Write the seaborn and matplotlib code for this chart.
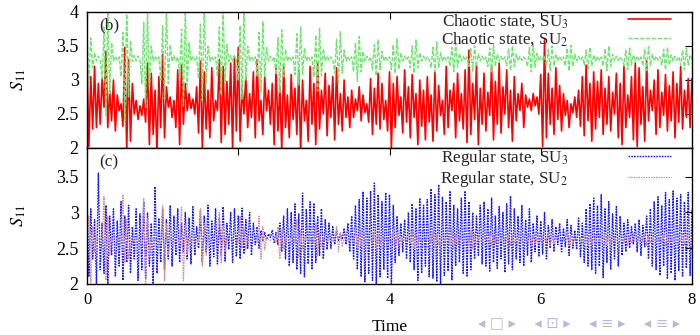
import numpy as np
import pandas as pd
import seaborn as sns
import matplotlib.pyplot as plt
from matplotlib.ticker import FormatStrFormatter

chaotic_su3 = [
    3.32, 2.02, 3.05, 2.28, 3.20, 2.30, 2.95, 2.35, 3.02, 2.60,
    3.42, 2.30, 2.85, 2.40, 3.00, 2.25, 2.78, 2.55, 2.65, 2.32,
    3.48, 1.95, 3.30, 2.10, 2.95, 2.50, 2.70, 2.42, 2.62, 2.48,
    2.72, 2.38, 3.25, 2.05, 3.10, 2.20, 2.85, 1.95, 3.05, 2.30,
    3.38, 2.15, 2.90, 2.60, 2.75, 2.45, 2.70, 2.30, 3.15, 2.05,
    3.22, 2.35, 2.95, 2.55, 2.80, 2.58, 2.72, 2.50, 2.90, 2.22,
    3.28, 2.00, 3.12, 2.28, 2.85, 2.15, 3.18, 2.40, 2.70, 2.55,
    3.30, 2.08, 3.20, 2.20, 2.98, 2.35, 3.25, 1.98, 3.35, 2.25,
    3.48, 2.10, 2.92, 2.50, 3.05, 2.30, 2.80, 2.45, 3.12, 2.15,
    3.30, 2.40, 2.70, 2.20, 3.05, 2.55, 2.85, 2.35, 2.95, 2.05,
    3.18, 2.25, 2.90, 1.98, 3.22, 2.30, 2.78, 2.15, 3.08, 2.42,
    2.88, 2.20, 3.15, 1.95, 3.00, 2.40, 2.70, 2.10, 3.20, 2.35,
    2.95, 2.05, 3.25, 2.28, 2.85, 2.50, 3.10, 2.18, 2.92, 2.45,
    3.05, 2.12, 3.18, 2.35, 2.80, 2.25, 3.00, 2.45, 2.75, 2.30,
    2.85, 2.45, 2.72, 2.55, 2.90, 2.40, 2.78, 2.52, 2.65, 2.38,
    3.02, 2.20, 2.88, 2.35, 3.10, 2.28, 2.95, 2.42, 2.70, 2.25,
    3.12, 2.00, 2.95, 2.30, 3.05, 2.48, 2.75, 2.22, 3.15, 2.38,
    2.90, 2.15, 3.08, 2.45, 2.80, 2.05, 3.00, 2.32, 2.85, 2.12,
    3.05, 2.38, 2.78, 2.10, 3.12, 2.25, 2.92, 2.48, 2.70, 2.20,
    3.20, 2.30, 2.85, 2.55, 2.95, 2.15, 3.10, 2.40, 2.80, 2.28,
    3.15, 2.08, 3.44, 2.20, 2.95, 2.42, 3.22, 2.05, 2.88, 2.35,
    3.10, 2.25, 2.82, 2.48, 3.20, 2.12, 2.98, 2.35, 3.25, 2.22,
    2.90, 2.50, 3.15, 2.30, 2.85, 2.10, 3.05, 2.40, 2.80, 2.55,
    2.95, 2.30, 2.78, 2.60, 2.72, 2.55, 2.80, 2.62, 2.75, 2.50,
    3.08, 2.02, 3.59, 2.15, 3.10, 2.35, 2.88, 2.20, 3.18, 2.42,
    2.92, 2.25, 2.80, 2.48, 2.70, 2.30, 2.65, 2.52, 2.75, 2.45,
    2.85, 2.32, 3.05, 2.18, 3.22, 2.40, 2.95, 2.10, 3.12, 2.28,
    2.98, 2.45, 3.15, 2.20, 2.88, 2.35, 3.05, 2.25, 2.82, 2.50,
    3.10, 2.15, 2.95, 2.05, 3.20, 2.30, 2.78, 2.45, 3.05, 2.12,
    3.25, 2.02, 3.18, 2.35, 2.90, 2.10, 3.28, 2.40, 2.85, 2.55,
    3.00, 2.20, 3.15, 2.30, 2.82, 2.48, 3.08, 2.25, 2.92, 2.40,
    3.12, 2.15, 2.95, 2.38, 3.20, 2.28, 2.85, 2.45, 3.02, 2.30,
    3.02,
]

chaotic_su2 = [
    3.76, 2.95, 3.62, 3.18, 3.40, 3.28, 3.35, 3.29, 3.02, 3.78,
    2.48, 4.05, 2.80, 3.55, 3.28, 3.35, 3.29, 3.34, 3.05, 3.70,
    2.40, 4.10, 2.75, 3.58, 3.27, 3.36, 3.28, 3.35, 3.30, 2.95,
    3.85, 2.60, 4.05, 2.90, 3.50, 3.28, 3.35, 3.29, 3.34, 3.00,
    3.80, 2.72, 4.08, 2.95, 3.52, 3.27, 3.36, 3.28, 3.34, 3.05,
    3.75, 2.62, 4.05, 2.92, 3.55, 3.28, 3.35, 3.29, 3.34, 3.02,
    3.82, 2.70, 4.10, 2.95, 3.50, 3.28, 3.35, 3.29, 3.34, 3.05,
    3.78, 2.78, 4.05, 2.98, 3.52, 3.27, 3.36, 3.28, 3.35, 3.30,
    3.00, 3.80, 2.72, 4.02, 3.00, 3.50, 3.28, 3.35, 3.29, 3.34,
    3.05, 3.70, 2.82, 3.86, 3.05, 3.48, 3.28, 3.35, 3.29, 3.34,
    3.08, 3.62, 2.82, 3.74, 3.05, 3.45, 3.28, 3.35, 3.29, 3.34,
    3.08, 3.68, 2.93, 3.78, 3.08, 3.47, 3.28, 3.35, 3.29, 3.34,
    3.05, 3.66, 2.84, 3.76, 3.06, 3.46, 3.28, 3.35, 3.29, 3.34,
    3.30, 3.10, 3.60, 2.93, 3.71, 3.10, 3.44, 3.28, 3.35, 3.29,
    3.34, 3.12, 3.55, 2.98, 3.64, 3.12, 3.42, 3.28, 3.35, 3.29,
    3.34, 3.15, 3.52, 3.06, 3.59, 3.15, 3.42, 3.28, 3.35, 3.29,
    3.34, 3.15, 3.52, 3.10, 3.61, 3.16, 3.40, 3.28, 3.35, 3.29,
    3.34, 3.18, 3.50, 3.10, 3.59, 3.18, 3.40, 3.28, 3.35, 3.29,
    3.34, 3.30, 3.18, 3.48, 3.12, 3.56, 3.18, 3.40, 3.28, 3.35,
    3.29, 3.34, 3.20, 3.48, 3.12, 3.54, 3.19, 3.39, 3.28, 3.35,
    3.29, 3.34, 3.20, 3.46, 3.13, 3.50, 3.20, 3.38, 3.28, 3.35,
    3.29, 3.34, 3.20, 3.47, 3.12, 3.52, 3.20, 3.38, 3.28, 3.35,
    3.29, 3.34, 3.21, 3.46, 3.14, 3.50, 3.20, 3.38, 3.28, 3.35,
    3.29, 3.34, 3.30, 3.20, 3.48, 3.12, 3.53, 3.19, 3.39, 3.28,
    3.35, 3.29, 3.34, 3.21, 3.45, 3.14, 3.50, 3.21, 3.38, 3.28,
    3.35, 3.29, 3.34, 3.21, 3.47, 3.13, 3.51, 3.20, 3.38, 3.28,
    3.35, 3.29, 3.34, 3.22, 3.44, 3.15, 3.48, 3.21, 3.37, 3.28,
    3.35, 3.29, 3.34, 3.21, 3.46, 3.14, 3.50, 3.20, 3.38, 3.28,
    3.35, 3.29, 3.34, 3.30, 3.22, 3.44, 3.15, 3.47, 3.22, 3.37,
    3.28, 3.35, 3.29, 3.34, 3.21, 3.45, 3.14, 3.49, 3.21, 3.38,
    3.28, 3.35, 3.29, 3.34, 3.22, 3.45, 3.15, 3.48, 3.22, 3.37,
    3.28, 3.35, 3.29, 3.34, 3.22, 3.44, 3.15, 3.47, 3.22, 3.37,
    3.30,
]

regular_su3 = [
    3.25, 2.10, 3.05, 2.35, 2.90, 2.00, 3.55, 2.20, 2.85, 2.15,
    3.10, 2.00, 2.95, 2.40, 3.05, 2.10, 2.88, 2.25, 3.15, 2.05,
    2.95, 2.30, 3.10, 2.15, 2.80, 2.35, 3.05, 2.05, 2.98, 2.20,
    3.15, 2.08, 3.00, 2.25, 2.85, 2.00, 3.36, 2.15, 2.92, 2.30,
    3.05, 2.20, 2.90, 2.35, 3.10, 2.25, 2.95, 2.40, 3.05, 2.30,
    2.85, 2.45, 3.00, 2.35, 2.92, 2.28, 3.08, 2.40, 2.80, 2.50,
    3.02, 2.30, 2.95, 2.45, 3.10, 2.25, 2.88, 2.38, 3.05, 2.28,
    2.92, 2.40, 3.08, 2.32, 2.85, 2.48, 3.00, 2.30, 3.05, 2.38,
    2.95, 2.35, 3.06, 2.42, 2.90, 2.50, 3.00, 2.40, 2.85, 2.55,
    2.80, 2.50, 2.75, 2.60, 2.72, 2.62, 2.70, 2.65, 2.75, 2.58,
    2.72, 2.55, 2.85, 2.45, 2.95, 2.35, 3.05, 2.25, 3.00, 2.30,
    3.12, 2.20, 2.98, 2.15, 3.27, 2.10, 3.05, 2.28, 3.15, 2.20,
    3.13, 2.30, 2.95, 2.40, 3.05, 2.35, 2.90, 2.48, 2.85, 2.50,
    2.80, 2.55, 2.75, 2.60, 2.70, 2.62, 2.78, 2.55, 2.85, 2.45,
    2.95, 2.35, 3.10, 2.20, 3.18, 2.10, 3.29, 2.03, 3.20, 2.15,
    3.30, 2.05, 3.41, 2.00, 3.25, 2.10, 3.15, 2.20, 3.28, 2.08,
    3.25, 1.98, 3.10, 2.30, 2.95, 2.40, 2.85, 2.45, 2.90, 2.35,
    3.00, 2.30, 3.12, 2.20, 3.05, 2.05, 3.20, 2.15, 3.10, 2.25,
    3.18, 2.10, 3.33, 2.08, 3.25, 2.03, 3.39, 2.00, 3.22, 2.12,
    3.15, 2.18, 3.30, 2.05, 3.10, 2.25, 3.05, 2.30, 3.20, 2.15,
    3.30, 2.10, 3.15, 2.20, 3.00, 2.35, 2.95, 2.40, 3.10, 2.28,
    3.15, 2.25, 3.05, 2.18, 3.20, 2.30, 2.95, 2.22, 3.08, 2.35,
    3.00, 2.16, 3.12, 2.28, 3.23, 2.20, 3.05, 2.35, 2.95, 2.30,
    3.10, 2.25, 2.90, 2.40, 3.05, 2.30, 2.85, 2.45, 2.95, 2.38,
    2.88, 2.42, 3.00, 2.35, 2.82, 2.50, 2.90, 2.45, 2.80, 2.55,
    2.85, 2.45, 2.78, 2.52, 2.90, 2.40, 2.82, 2.50, 2.75, 2.48,
    2.92, 2.38, 2.85, 2.30, 3.05, 2.25, 3.12, 2.20, 3.20, 2.15,
    3.10, 2.25, 3.25, 2.09, 3.05, 2.30, 3.15, 2.20, 2.98, 2.35,
    3.08, 2.25, 2.95, 2.40, 2.85, 2.45, 2.90, 2.50, 2.80, 2.55,
    2.85, 2.45, 2.90, 2.40, 2.82, 2.52, 2.95, 2.35, 3.05, 2.25,
    3.15, 2.20, 3.22, 2.12, 3.10, 2.25, 3.28, 2.07, 3.18, 2.15,
    3.30, 2.05, 3.20, 2.18, 3.25, 2.10, 3.15, 2.22, 3.28, 2.12,
    3.05,
]

regular_su2 = [
    2.62, 2.95, 2.02, 2.80, 2.45, 2.66, 2.62, 2.61, 2.58, 3.22,
    2.05, 2.95, 2.40, 2.65, 2.62, 2.61, 2.63, 2.62, 2.58, 3.25,
    2.30, 2.90, 2.35, 2.65, 2.62, 2.61, 2.63, 2.62, 2.61, 2.58,
    3.20, 2.00, 2.92, 2.38, 2.65, 2.62, 2.61, 2.63, 2.62, 2.58,
    3.10, 2.05, 2.85, 2.40, 2.65, 2.62, 2.61, 2.63, 2.62, 2.58,
    3.07, 2.05, 2.82, 2.42, 2.65, 2.62, 2.61, 2.63, 2.62, 2.58,
    3.05, 2.25, 2.85, 2.40, 2.65, 2.62, 2.61, 2.63, 2.62, 2.58,
    3.00, 2.30, 2.80, 2.45, 2.65, 2.62, 2.61, 2.63, 2.62, 2.61,
    2.58, 2.95, 2.50, 2.78, 2.48, 2.65, 2.62, 2.61, 2.63, 2.62,
    2.58, 2.95, 2.35, 2.80, 2.48, 2.65, 2.62, 2.61, 2.63, 2.62,
    2.58, 2.80, 2.35, 2.75, 2.50, 2.65, 2.62, 2.61, 2.63, 2.62,
    2.58, 2.90, 2.37, 2.75, 2.50, 2.65, 2.62, 2.61, 2.63, 2.62,
    2.58, 2.85, 2.40, 2.72, 2.52, 2.65, 2.62, 2.61, 2.63, 2.62,
    2.61, 2.58, 2.80, 2.45, 2.72, 2.52, 2.65, 2.62, 2.61, 2.63,
    2.62, 2.58, 2.78, 2.50, 2.70, 2.54, 2.65, 2.62, 2.61, 2.63,
    2.62, 2.58, 2.75, 2.50, 2.70, 2.55, 2.65, 2.62, 2.61, 2.63,
    2.62, 2.58, 2.75, 2.50, 2.70, 2.55, 2.65, 2.62, 2.61, 2.63,
    2.62, 2.58, 2.75, 2.50, 2.70, 2.55, 2.65, 2.62, 2.61, 2.63,
    2.62, 2.61, 2.58, 2.75, 2.50, 2.70, 2.55, 2.65, 2.62, 2.61,
    2.63, 2.62, 2.58, 2.75, 2.50, 2.70, 2.55, 2.65, 2.62, 2.61,
    2.63, 2.62, 2.58, 2.75, 2.50, 2.70, 2.55, 2.65, 2.62, 2.61,
    2.63, 2.62, 2.60, 2.71, 2.54, 2.68, 2.57, 2.64, 2.62, 2.61,
    2.63, 2.62, 2.60, 2.71, 2.54, 2.68, 2.57, 2.64, 2.62, 2.61,
    2.63, 2.62, 2.61, 2.60, 2.71, 2.54, 2.68, 2.57, 2.64, 2.62,
    2.61, 2.63, 2.62, 2.60, 2.71, 2.54, 2.68, 2.57, 2.64, 2.62,
    2.61, 2.63, 2.62, 2.60, 2.71, 2.54, 2.68, 2.57, 2.64, 2.62,
    2.61, 2.63, 2.62, 2.60, 2.71, 2.54, 2.68, 2.57, 2.64, 2.62,
    2.61, 2.63, 2.62, 2.60, 2.71, 2.54, 2.68, 2.57, 2.64, 2.62,
    2.61, 2.63, 2.62, 2.61, 2.60, 2.71, 2.54, 2.68, 2.57, 2.64,
    2.62, 2.61, 2.63, 2.62, 2.60, 2.71, 2.54, 2.68, 2.57, 2.64,
    2.62, 2.61, 2.63, 2.62, 2.60, 2.71, 2.54, 2.68, 2.57, 2.64,
    2.62, 2.61, 2.63, 2.62, 2.60, 2.71, 2.54, 2.68, 2.57, 2.64,
    2.62,
]

time = np.linspace(0, 8, len(chaotic_su3))

labels_top = ["Chaotic state, SU$_3$", "Chaotic state, SU$_2$"]
labels_bot = ["Regular state, SU$_3$", "Regular state, SU$_2$"]
xticks = [0, 2, 4, 6, 8]
yticks_top = [2, 2.5, 3, 3.5, 4]
yticks_bot = [2, 2.5, 3, 3.5]

# ---------------- style ----------------
sns.set_theme(style="white")
plt.rcParams['font.family'] = ['Liberation Serif', 'DejaVu Serif']
plt.rcParams['mathtext.fontset'] = 'stix'

df = pd.DataFrame({
    "time": time,
    "c3": chaotic_su3, "c2": chaotic_su2,
    "r3": regular_su3, "r2": regular_su2,
})

W, H = 700, 335
fig = plt.figure(figsize=(W / 100, H / 100), dpi=100)
x0, x1 = 87, 692
ax1 = fig.add_axes([x0 / W, 1 - 148 / H, (x1 - x0) / W, 136 / H])
ax2 = fig.add_axes([x0 / W, 1 - 284 / H, (x1 - x0) / W, 136 / H])

sns.lineplot(data=df, x="time", y="c3", ax=ax1, color="#ff0000", linewidth=1.2,
             label=labels_top[0])
sns.lineplot(data=df, x="time", y="c2", ax=ax1, color="#6ee66e", linewidth=1.0,
             linestyle=(0, (3, 1.2)), label=labels_top[1])
sns.lineplot(data=df, x="time", y="r3", ax=ax2, color="#1a1aff", linewidth=1.0,
             linestyle=(0, (1.2, 0.8)), label=labels_bot[0])
sns.lineplot(data=df, x="time", y="r2", ax=ax2, color="#d98e8e", linewidth=0.9,
             linestyle=(0, (1.2, 0.8)), label=labels_bot[1])

fs = 12
lfs = 12.3
for ax, yt, ylim in ((ax1, yticks_top, (2, 4)), (ax2, yticks_bot, (2, 3.9))):
    ax.set_xlim(0, 8)
    ax.set_ylim(*ylim)
    ax.set_xticks(xticks)
    ax.set_yticks(yt)
    ax.yaxis.set_major_formatter(FormatStrFormatter('%g'))
    ax.tick_params(direction='in', top=True, right=True, length=5, width=0.8,
                   labelsize=fs, colors='black', pad=6)
    ax.tick_params(axis='y', labelsize=fs + 1)
    for s in ax.spines.values():
        s.set_color('black')
        s.set_linewidth(1.0)
    ax.set_xlabel("")
    ax.set_ylabel("$S_{11}$", fontsize=fs + 1, color='black')
    ax.yaxis.set_label_coords(-0.098, 0.5)
    h, l = ax.get_legend_handles_labels()
    ax.legend(h, l, loc='upper right', bbox_to_anchor=((671 - x0) / (x1 - x0), 1.0),
              frameon=False, markerfirst=False, fontsize=lfs, handlelength=2.5,
              handletextpad=3.5, labelspacing=0.05, borderpad=0.0, borderaxespad=0.0)

ax1.tick_params(labelbottom=False)
ax2.set_xlabel("Time", fontsize=fs + 0.5, color='black', labelpad=8)

ax1.text(0.021, 0.905, "(b)", transform=ax1.transAxes, fontsize=fs + 0.5, va='center')
ax2.text(0.02, 0.895, "(c)", transform=ax2.transAxes, fontsize=fs + 0.5, va='center')

fig.text(478 / W, 1 - 323 / H, "◂ □ ▸    ◂ ⊡ ▸    ◂ ≡ ▸    ◂ ≡ ▸", color="#b8b8dc",
         fontsize=10.5, family=['DejaVu Sans'], va='center', ha='left')

fig.savefig("out.png", dpi=100)
